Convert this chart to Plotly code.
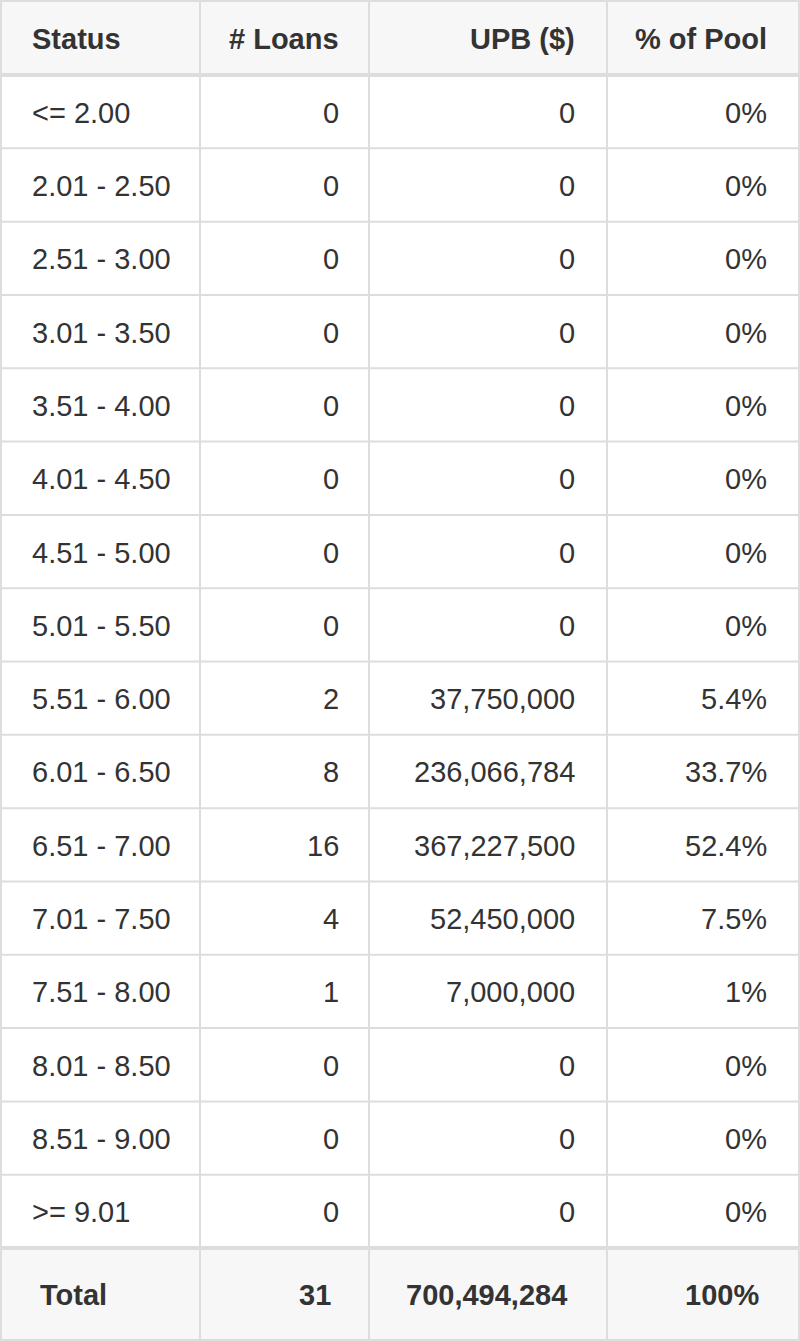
import plotly.graph_objects as go

headers = ["Status", "# Loans", "UPB ($)", "% of Pool"]
status = ["<= 2.00", "2.01 - 2.50", "2.51 - 3.00", "3.01 - 3.50", "3.51 - 4.00", "4.01 - 4.50",
          "4.51 - 5.00", "5.01 - 5.50", "5.51 - 6.00", "6.01 - 6.50", "6.51 - 7.00", "7.01 - 7.50",
          "7.51 - 8.00", "8.01 - 8.50", "8.51 - 9.00", ">= 9.01"]
loans = [0, 0, 0, 0, 0, 0, 0, 0, 2, 8, 16, 4, 1, 0, 0, 0]
upb = [0, 0, 0, 0, 0, 0, 0, 0, 37750000, 236066784, 367227500, 52450000, 7000000, 0, 0, 0]
pct = ["0%", "0%", "0%", "0%", "0%", "0%", "0%", "0%", "5.4%", "33.7%", "52.4%", "7.5%", "1%", "0%", "0%", "0%"]
total = ["Total", "31", "700,494,284", "100%"]

W, H = 800, 1341
cols = [0, 200, 369, 607, 800]
head_h = 75
row_h = (1248 - head_h) / len(status)
tot_top = 1248
line = "#dddddd"
txt = "#333333"
font = "Liberation Sans, Arial, Helvetica, sans-serif"

fig = go.Figure()
shapes = []
ann = []

# backgrounds
shapes.append(dict(type="rect", x0=0, x1=W, y0=0, y1=head_h, fillcolor="#f7f7f7", line_width=0, layer="below"))
shapes.append(dict(type="rect", x0=0, x1=W, y0=tot_top, y1=H, fillcolor="#f7f7f7", line_width=0, layer="below"))

# horizontal lines
for i in range(len(status) + 1):
    y = head_h + i * row_h
    w = 4 if i in (0, len(status)) else 2
    shapes.append(dict(type="line", x0=0, x1=W, y0=y, y1=y, line=dict(color=line, width=w)))
for y in (1, H - 1):
    shapes.append(dict(type="line", x0=0, x1=W, y0=y, y1=y, line=dict(color=line, width=2)))
# vertical lines
for x in cols:
    x = min(max(x, 1), W - 1)
    shapes.append(dict(type="line", x0=x, x1=x, y0=0, y1=H, line=dict(color=line, width=2)))

def add(x, y, t, align, bold=False):
    ann.append(dict(x=x, y=y, text="<b>%s</b>" % t if bold else t, showarrow=False,
                    xanchor=align, yanchor="middle", font=dict(size=29, color=txt, family=font)))

pads = [30, 28, 30, 31]
def place(vals, y, bold=False, extra=0):
    for j, v in enumerate(vals):
        if j == 0:
            add(cols[0] + pads[0] + extra, y, v, "left", bold)
        else:
            add(cols[j + 1] - pads[j] - extra, y, v, "right", bold)

place(headers, head_h / 2 + 1, bold=True)
for i in range(len(status)):
    y = head_h + (i + 0.5) * row_h + 1
    place([status[i], str(loans[i]), f"{upb[i]:,}", pct[i]], y)
place(total, (tot_top + H) / 2, bold=True, extra=8)

fig.update_layout(
    width=W, height=H, margin=dict(l=0, r=0, t=0, b=0),
    paper_bgcolor="white", plot_bgcolor="white",
    xaxis=dict(range=[0, W], visible=False, fixedrange=True),
    yaxis=dict(range=[H, 0], visible=False, fixedrange=True),
    shapes=shapes, annotations=ann, showlegend=False,
)
fig.write_html("out.html", config={"displayModeBar": False},
               post_script="document.body.style.margin='0';")
